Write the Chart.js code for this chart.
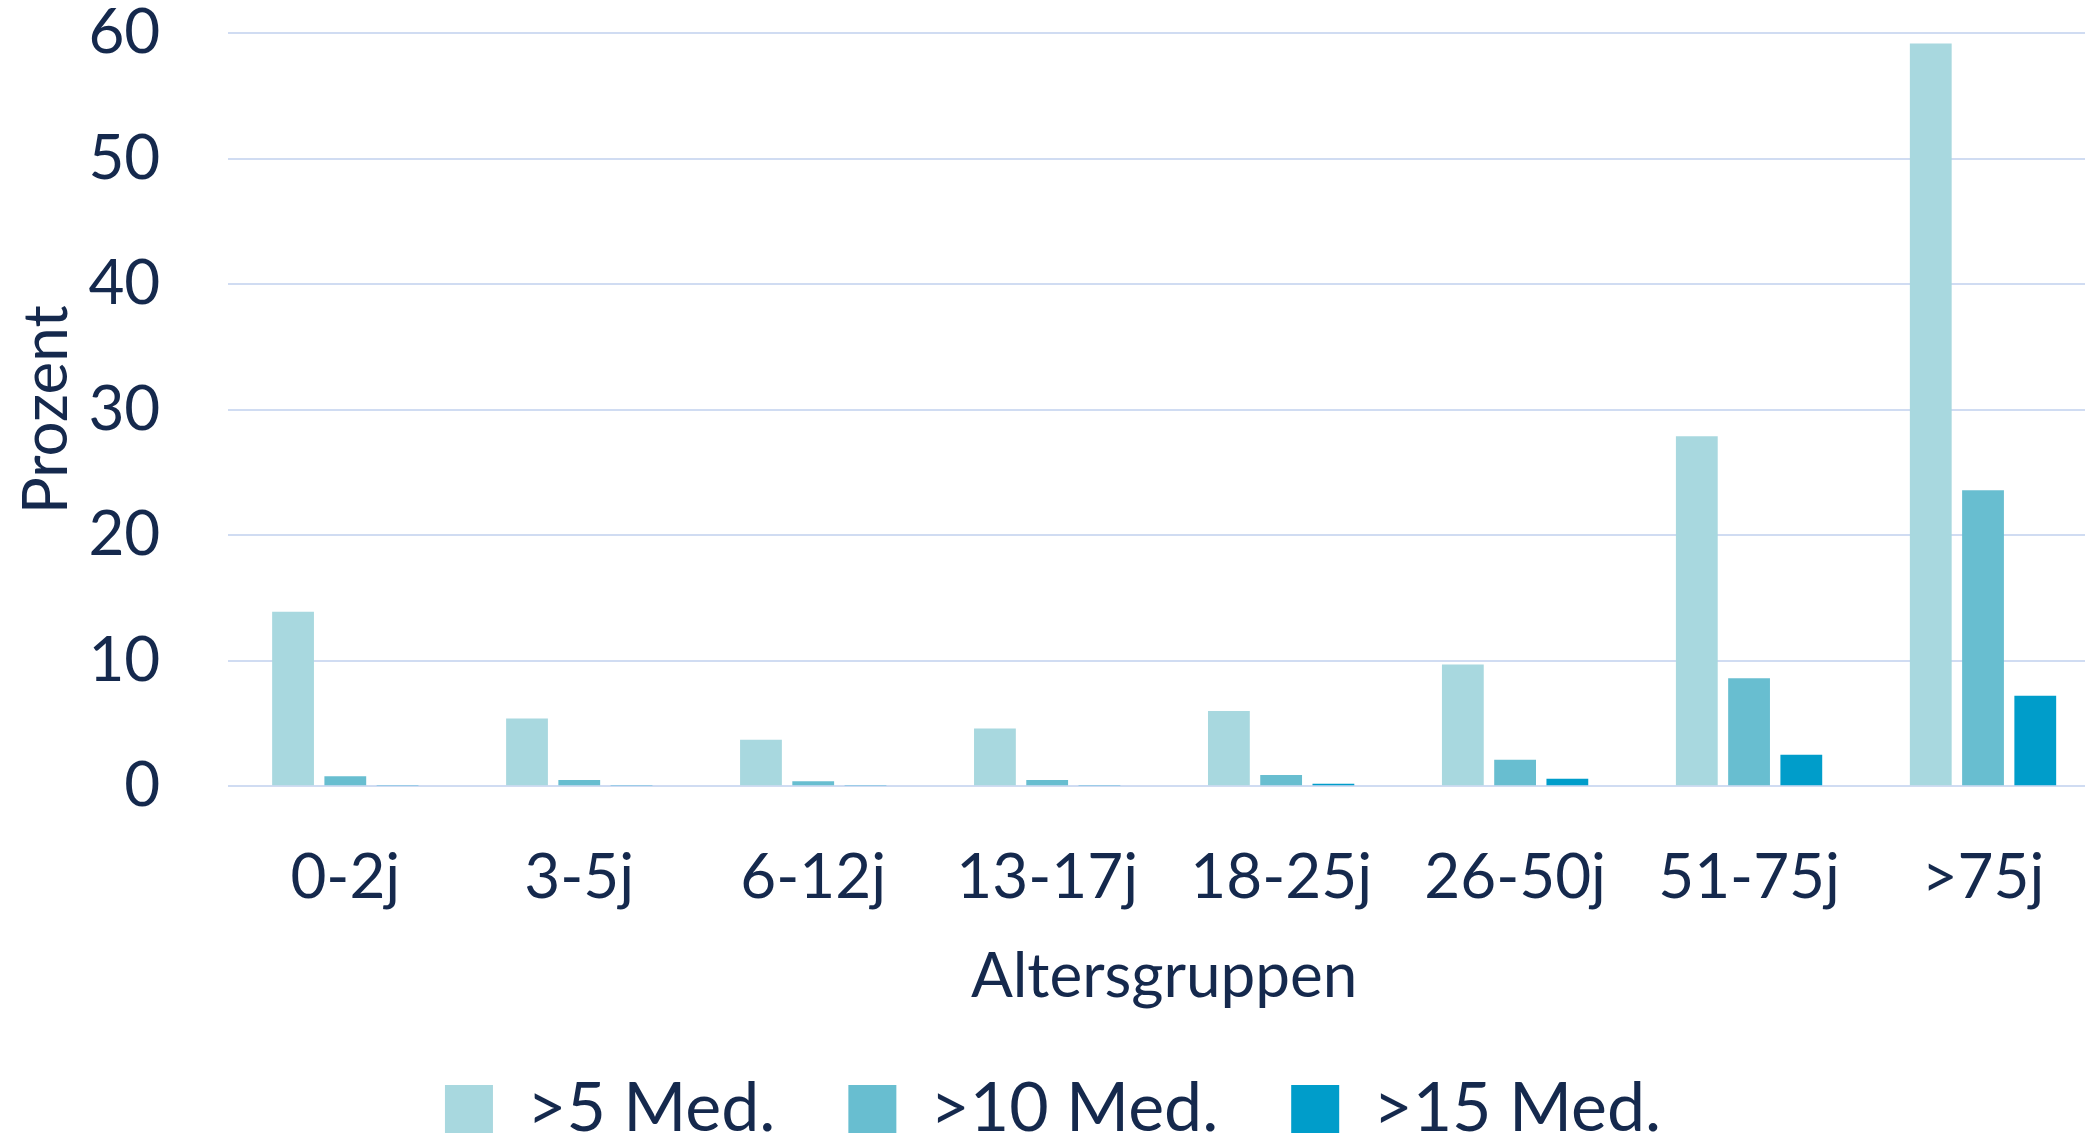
<!DOCTYPE html>
<html lang="de">
<head>
<meta charset="utf-8">
<title>Altersgruppen</title>
<script src="https://cdn.jsdelivr.net/npm/chart.js@4.4.1/dist/chart.umd.min.js"></script>
<style>
    html, body { margin: 0; padding: 0; background: #ffffff; overflow: hidden; }
    #wrap { position: relative; width: 2100px; height: 1153px; }
</style>
</head>
<body>
<div id="wrap"><canvas id="myChart"></canvas></div>
<script>
// Chart data
const categories = ['0-2j', '3-5j', '6-12j', '13-17j', '18-25j', '26-50j', '51-75j', '>75j'];
const seriesNames = ['>5 Med.', '>10 Med.', '>15 Med.'];
const med5 = [13.9, 5.4, 3.7, 4.6, 6.0, 9.7, 27.9, 59.2];
const med10 = [0.8, 0.5, 0.4, 0.5, 0.9, 2.1, 8.6, 23.6];
const med15 = [0.1, 0.1, 0.1, 0.1, 0.2, 0.6, 2.5, 7.2];
const yTicks = [0, 10, 20, 30, 40, 50, 60];

const textColor = '#15294d';
const gridColor = '#d0dcf2';
const fontFamily = 'Lato, "Noto Sans", sans-serif';

const ctx = document.getElementById('myChart').getContext('2d');
const myChart = new Chart(ctx, {
    type: 'bar',
    data: {
        labels: categories,
        datasets: [
            { label: seriesNames[0], data: med5, backgroundColor: '#a8d8df' },
            { label: seriesNames[1], data: med10, backgroundColor: '#68bed0' },
            { label: seriesNames[2], data: med15, backgroundColor: '#009dca' }
        ]
    },
    options: {
        responsive: true,
        maintainAspectRatio: false,
        devicePixelRatio: 1,
        animation: false,
        datasets: {
            bar: { categoryPercentage: 0.67, barPercentage: 0.8 }
        },
        layout: { padding: { left: 6, top: 0, right: 0, bottom: 0 } },
        plugins: {
            legend: {
                position: 'bottom',
                labels: {
                    color: textColor,
                    font: { family: fontFamily, size: 68 },
                    boxWidth: 48,
                    boxHeight: 48,
                    padding: 73
                }
            },
            tooltip: { enabled: false }
        },
        scales: {
            x: {
                // invisible tick marks give the gap under the plot
                grid: {
                    display: true,
                    drawOnChartArea: false,
                    drawTicks: true,
                    tickLength: 55,
                    color: 'rgba(0,0,0,0)',
                    tickColor: 'rgba(0,0,0,0)'
                },
                border: { display: false },
                ticks: {
                    color: textColor,
                    font: { family: fontFamily, size: 62, lineHeight: 1.2 },
                    padding: 0
                },
                title: {
                    display: true,
                    text: 'Altersgruppen',
                    color: textColor,
                    font: { family: fontFamily, size: 62, lineHeight: 1.2 },
                    padding: { top: 24, bottom: -12 }
                }
            },
            y: {
                min: yTicks[0],
                max: yTicks[yTicks.length - 1],
                afterBuildTicks: function (scale) {
                    scale.ticks = yTicks.map(v => ({ value: v }));
                },
                grid: {
                    color: gridColor,
                    lineWidth: 2,
                    drawTicks: true,
                    tickLength: 68,
                    tickColor: 'rgba(0,0,0,0)'
                },
                border: { display: false },
                ticks: {
                    color: textColor,
                    font: { family: fontFamily, size: 62, lineHeight: 1.08 },
                    padding: 0
                },
                title: {
                    display: true,
                    text: 'Prozent',
                    color: textColor,
                    font: { family: fontFamily, size: 62, lineHeight: 1.2 },
                    padding: { top: 4, bottom: 4 }
                }
            }
        }
    }
});
</script>
</body>
</html>
